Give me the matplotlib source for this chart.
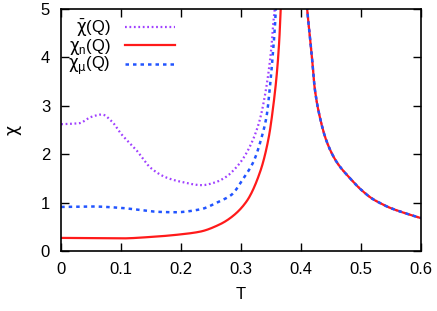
import matplotlib.pyplot as plt
import numpy as np

plt.rcParams['font.family'] = ['Liberation Sans', 'DejaVu Sans']
plt.rcParams['mathtext.fontset'] = 'custom'
plt.rcParams['mathtext.rm'] = 'Liberation Sans'
plt.rcParams['mathtext.it'] = 'DejaVu Sans'
plt.rcParams['mathtext.bf'] = 'Liberation Sans:bold'

# below Tc
t_bar = [0.0, 0.03, 0.05, 0.068, 0.085, 0.1, 0.125, 0.15, 0.175, 0.2, 0.235,
         0.255, 0.275, 0.29, 0.304, 0.321, 0.332, 0.34, 0.346, 0.351, 0.354, 0.356, 0.359]
chi_bar = [2.62, 2.64, 2.77, 2.82, 2.67, 2.42, 2.09, 1.71, 1.52, 1.43, 1.36,
           1.41, 1.53, 1.70, 1.92, 2.33, 2.74, 3.22, 3.70, 4.25, 4.73, 4.97, 5.3]

t_mu = [0.0, 0.05, 0.1, 0.13, 0.16, 0.19, 0.232, 0.263, 0.284, 0.304, 0.321,
        0.334, 0.343, 0.348, 0.353, 0.357, 0.358, 0.3605]
chi_mu = [0.91, 0.92, 0.89, 0.85, 0.81, 0.80, 0.86, 1.02, 1.16, 1.50, 1.85,
          2.33, 2.81, 3.36, 4.05, 4.73, 4.97, 5.3]

t_n = [0.0, 0.1, 0.15, 0.197, 0.232, 0.263, 0.282, 0.309, 0.332, 0.346, 0.354,
       0.36, 0.364, 0.366, 0.368]
chi_n = [0.27, 0.26, 0.29, 0.34, 0.40, 0.54, 0.68, 1.02, 1.64, 2.33, 3.01,
         3.70, 4.39, 4.94, 5.3]

# above Tc, all curves coincide
t_hi = [0.408, 0.4105, 0.418, 0.423, 0.432, 0.443, 0.459, 0.482, 0.5, 0.519,
        0.532, 0.547, 0.574, 0.6]
chi_hi = [5.3, 4.97, 4.05, 3.36, 2.74, 2.26, 1.85, 1.50, 1.27, 1.08,
          0.99, 0.90, 0.78, 0.68]

c_bar = '#a040ff'
c_n = '#ff1a1a'
c_mu = '#2255ff'


def pchip(x, y, n=400):
    # monotone cubic (Fritsch-Carlson) through the read points, for a smooth line
    x = np.asarray(x, float)
    y = np.asarray(y, float)
    h = np.diff(x)
    d = np.diff(y) / h
    m = np.zeros_like(y)
    m[0], m[-1] = d[0], d[-1]
    for k in range(1, len(x) - 1):
        if d[k - 1] * d[k] > 0:
            w1 = 2 * h[k] + h[k - 1]
            w2 = h[k] + 2 * h[k - 1]
            m[k] = (w1 + w2) / (w1 / d[k - 1] + w2 / d[k])
    xx = np.linspace(x[0], x[-1], n)
    i = np.clip(np.searchsorted(x, xx) - 1, 0, len(x) - 2)
    t = (xx - x[i]) / h[i]
    h00 = 2 * t**3 - 3 * t**2 + 1
    h10 = t**3 - 2 * t**2 + t
    h01 = -2 * t**3 + 3 * t**2
    h11 = t**3 - t**2
    yy = h00 * y[i] + h10 * h[i] * m[i] + h01 * y[i + 1] + h11 * h[i] * m[i + 1]
    return xx, yy


fig = plt.figure(figsize=(4.37, 3.11), dpi=100)
ax = fig.add_axes([0.14, 0.193, 0.823, 0.778])

purple = dict(color=c_bar, lw=1.6, linestyle=(0, (0.8, 1.2)))
red = dict(color=c_n, lw=1.6, linestyle='-')
blue = dict(color=c_mu, lw=1.8, linestyle=(0, (1.4, 1.6)))

ax.plot(*pchip(t_bar, chi_bar), label=r'$\bar{\chi}$(Q)', **purple)
ax.plot(*pchip(t_hi, chi_hi), **purple)
ax.plot(*pchip(t_n, chi_n), label=r'$\chi_{\rm n}$(Q)', **red)
ax.plot(*pchip(t_hi, chi_hi), **red)
ax.plot(*pchip(t_mu, chi_mu), label=r'$\chi_\mu$(Q)', **blue)
ax.plot(*pchip(t_hi, chi_hi), **blue)

ax.set_xlim(0, 0.6)
ax.set_ylim(0, 5)
ax.set_xticks([0, 0.1, 0.2, 0.3, 0.4, 0.5, 0.6])
ax.set_xticklabels(['0', '0.1', '0.2', '0.3', '0.4', '0.5', '0.6'])
ax.set_yticks([0, 1, 2, 3, 4, 5])
ax.tick_params(direction='in', length=5.5, width=1, top=True, right=True,
               labelsize=12, pad=8)
for s in ax.spines.values():
    s.set_linewidth(1.2)
ax.set_xlabel('T', fontsize=12, labelpad=7)
ax.set_ylabel(r'$\chi$', fontsize=12.5, labelpad=12)

ax.legend(loc='upper right', bbox_to_anchor=(0.34, 1.0), frameon=False,
          markerfirst=False, handlelength=3.0, handletextpad=0.85,
          labelspacing=-0.1, borderpad=0, fontsize=12)

fig.savefig('out.png', dpi=100)
